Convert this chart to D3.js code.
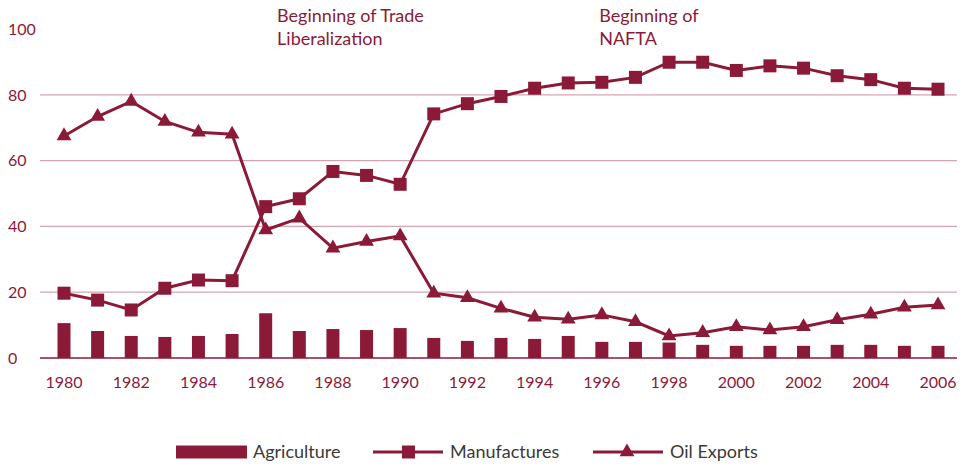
<!DOCTYPE html>
<html>
<head>
<meta charset="utf-8">
<script src="https://cdn.jsdelivr.net/npm/d3@7"></script>
<style>
  body { margin: 0; background: #fff; }
  svg text { font-family: Lato, "Noto Sans", sans-serif; fill: #8b1a38; }
</style>
</head>
<body>
<div id="chart"></div>
<script>
const years = d3.range(1980, 2007);
const agriculture = [10.6, 8.2, 6.7, 6.4, 6.7, 7.3, 13.6, 8.2, 8.8, 8.5, 9.1, 6.1, 5.2, 6.1, 5.8, 6.7, 4.9, 4.9, 4.7, 4.0, 3.7, 3.7, 3.7, 4.0, 4.0, 3.7, 3.7];
const manufactures = [19.7, 17.6, 14.6, 21.2, 23.7, 23.5, 46.0, 48.4, 56.7, 55.5, 52.8, 74.2, 77.3, 79.5, 82.0, 83.6, 83.8, 85.3, 89.9, 89.9, 87.4, 88.8, 88.1, 85.8, 84.6, 82.0, 81.7];
const oilExports = [67.5, 73.4, 78.0, 71.9, 68.6, 68.0, 38.9, 42.5, 33.4, 35.4, 37.1, 19.7, 18.3, 15.1, 12.4, 11.8, 13.1, 11.0, 6.7, 7.7, 9.5, 8.5, 9.5, 11.6, 13.3, 15.4, 16.1];
const yTicks = [0, 20, 40, 60, 80, 100];
const xTicks = d3.range(1980, 2007, 2);
const annotations = [
  { year: 1986.34, lines: ["Beginning of Trade", "Liberalization"] },
  { year: 1995.92, lines: ["Beginning of", "NAFTA"] }
];
const seriesNames = ["Agriculture", "Manufactures", "Oil Exports"];

const config = { width: 964, height: 468, left: 40, right: 7, top: 29, bottom: 110 };
const color = "#8b1a38";

const svg = d3.select("#chart").append("svg")
  .attr("width", config.width)
  .attr("height", config.height);

const x = d3.scaleLinear().domain([1980, 2006]).range([64, 938]);
const y = d3.scaleLinear().domain([0, 100]).range([358, 29]);

// gridlines
svg.append("g")
  .selectAll("line")
  .data(yTicks.filter(d => d > 0 && d < 100))
  .join("line")
  .attr("x1", config.left)
  .attr("x2", config.width - config.right)
  .attr("y1", d => y(d))
  .attr("y2", d => y(d))
  .attr("stroke", "#d5a2b0")
  .attr("stroke-width", 1.3);

// y labels
svg.append("g")
  .selectAll("text")
  .data(yTicks)
  .join("text")
  .attr("x", 8)
  .attr("y", d => y(d))
  .attr("dy", "0.36em")
  .attr("font-size", 16)
  .text(d => d);

// bars
const barW = 13;
svg.append("g")
  .selectAll("rect")
  .data(agriculture)
  .join("rect")
  .attr("x", (d, i) => x(years[i]) - barW / 2)
  .attr("y", d => y(d))
  .attr("width", barW)
  .attr("height", d => y(0) - y(d))
  .attr("fill", color);

// baseline
svg.append("line")
  .attr("x1", config.left)
  .attr("x2", config.width - config.right)
  .attr("y1", y(0))
  .attr("y2", y(0))
  .attr("stroke", color)
  .attr("stroke-width", 1.5);

// x labels
svg.append("g")
  .selectAll("text")
  .data(xTicks)
  .join("text")
  .attr("x", d => x(d))
  .attr("y", 388)
  .attr("text-anchor", "middle")
  .attr("font-size", 16)
  .text(d => d);

const line = d3.line().x((d, i) => x(years[i])).y(d => y(d));

// manufactures
svg.append("path")
  .datum(manufactures)
  .attr("d", line)
  .attr("fill", "none")
  .attr("stroke", color)
  .attr("stroke-width", 3);
const sq = 13;
svg.append("g")
  .selectAll("rect")
  .data(manufactures)
  .join("rect")
  .attr("x", (d, i) => x(years[i]) - sq / 2)
  .attr("y", d => y(d) - sq / 2)
  .attr("width", sq)
  .attr("height", sq)
  .attr("fill", color);

// oil exports
svg.append("path")
  .datum(oilExports)
  .attr("d", line)
  .attr("fill", "none")
  .attr("stroke", color)
  .attr("stroke-width", 3);
const tri = d3.symbol().type(d3.symbolTriangle).size(95);
svg.append("g")
  .selectAll("path")
  .data(oilExports)
  .join("path")
  .attr("transform", (d, i) => `translate(${x(years[i])},${y(d)})`)
  .attr("d", tri)
  .attr("fill", color);

// annotations
annotations.forEach(a => {
  const t = svg.append("text")
    .attr("x", x(a.year))
    .attr("y", 22)
    .attr("font-size", 18);
  a.lines.forEach((l, i) => {
    t.append("tspan").attr("x", x(a.year)).attr("dy", i === 0 ? 0 : 23).text(l);
  });
});

// legend
const lg = svg.append("g").attr("transform", "translate(0,452)");
lg.append("rect").attr("x", 176).attr("y", -6.5).attr("width", 71).attr("height", 13).attr("fill", color);
lg.append("text").attr("x", 253).attr("y", 0).attr("dy", "0.36em").attr("font-size", 18).style("fill", "#3a3a3a").text(seriesNames[0]);

lg.append("line").attr("x1", 373).attr("x2", 443).attr("y1", 0).attr("y2", 0).attr("stroke", color).attr("stroke-width", 3);
lg.append("rect").attr("x", 408.5 - sq / 2).attr("y", -sq / 2).attr("width", sq).attr("height", sq).attr("fill", color);
lg.append("text").attr("x", 450).attr("y", 0).attr("dy", "0.36em").attr("font-size", 18).style("fill", "#3a3a3a").text(seriesNames[1]);

lg.append("line").attr("x1", 593).attr("x2", 663).attr("y1", 0).attr("y2", 0).attr("stroke", color).attr("stroke-width", 3);
lg.append("path").attr("transform", "translate(627,0)").attr("d", tri).attr("fill", color);
lg.append("text").attr("x", 670).attr("y", 0).attr("dy", "0.36em").attr("font-size", 18).style("fill", "#3a3a3a").text(seriesNames[2]);
</script>
</body>
</html>
